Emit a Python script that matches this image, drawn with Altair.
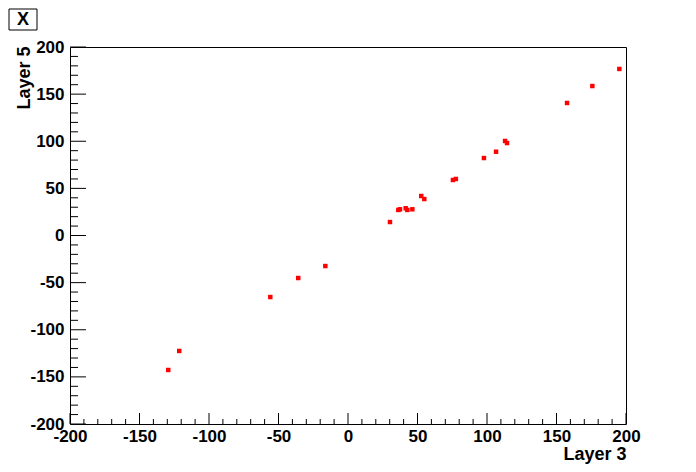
import altair as alt
import pandas as pd

# Data
layer3 = [195.2, 175.8, 157.6, 113.0, 114.4, 106.5, 97.8, 75.5, 77.6, 54.9, 52.7,
          46.3, 42.7, 41.5, 37.4, 36.2, 30.2, -16.3, -35.8, -55.9, -121.4, -129.3]
layer5 = [176.7, 158.6, 140.6, 100.3, 98.1, 88.9, 82.2, 58.9, 60.0, 38.7, 41.9,
          27.8, 27.1, 28.9, 27.8, 27.1, 14.3, -32.4, -45.1, -65.3, -122.5, -142.7]

major_ticks = [-200, -150, -100, -50, 0, 50, 100, 150, 200]
minor_ticks = [v for v in range(-200, 201, 10) if v % 50 != 0]

W, H = 556, 377
FONT = "Liberation Sans"

df = pd.DataFrame({"layer3": layer3, "layer5": layer5})
maj = pd.DataFrame({"v": major_ticks})
mnr = pd.DataFrame({"v": minor_ticks})

xs = alt.Scale(domain=[-200, 200], nice=False, zero=False)
ys = alt.Scale(domain=[-200, 200], nice=False, zero=False)

x_axis = alt.Axis(values=major_ticks, ticks=False, domain=False, grid=False,
                  labelExpr="'' + datum.value",
                  labelFont=FONT, labelFontWeight="bold", labelFontSize=17,
                  labelColor="black", labelPadding=4, labelFlush=False,
                  labelOverlap=False, title="Layer 3", titleFont=FONT,
                  titleFontWeight="bold", titleFontSize=18, titleColor="black",
                  titleX=W, titleY=35, titleAlign="right",
                  titleBaseline="alphabetic", titleAnchor="end")
y_axis = alt.Axis(values=major_ticks, ticks=False, domain=False, grid=False,
                  labelExpr="'' + datum.value",
                  labelFont=FONT, labelFontWeight="bold", labelFontSize=17,
                  labelColor="black", labelPadding=6, labelFlush=False,
                  labelOverlap=False, title="Layer 5", titleFont=FONT,
                  titleFontWeight="bold", titleFontSize=18, titleColor="black",
                  titleX=-41, titleY=-1, titleAngle=-90, titleAlign="right",
                  titleBaseline="alphabetic", titleAnchor="end")

points = alt.Chart(df).mark_point(shape="square", filled=True, size=20, color="#ff0000", opacity=1).encode(
    x=alt.X("layer3:Q", scale=xs, axis=x_axis, title="Layer 3"),
    y=alt.Y("layer5:Q", scale=ys, axis=y_axis, title="Layer 5"),
)

x_major = alt.Chart(maj).mark_rule(color="black", strokeWidth=1).encode(
    x=alt.X("v:Q", scale=xs, axis=x_axis, title="Layer 3"), y=alt.value(H), y2=alt.value(H - 11))
x_minor = alt.Chart(mnr).mark_rule(color="black", strokeWidth=1).encode(
    x=alt.X("v:Q", scale=xs, axis=x_axis, title="Layer 3"), y=alt.value(H), y2=alt.value(H - 5))
y_major = alt.Chart(maj).mark_rule(color="black", strokeWidth=1).encode(
    y=alt.Y("v:Q", scale=ys, axis=y_axis, title="Layer 5"), x=alt.value(0), x2=alt.value(16))
y_minor = alt.Chart(mnr).mark_rule(color="black", strokeWidth=1).encode(
    y=alt.Y("v:Q", scale=ys, axis=y_axis, title="Layer 5"), x=alt.value(0), x2=alt.value(8))

box = alt.Chart(pd.DataFrame({"t": ["X"]})).mark_rect(
    fill="white", stroke="black", strokeWidth=1).encode(
    x=alt.value(-61), x2=alt.value(-33), y=alt.value(-38), y2=alt.value(-17))
box_text = alt.Chart(pd.DataFrame({"t": ["X"]})).mark_text(
    font=FONT, fontWeight="bold", fontSize=18, color="black",
    align="center", baseline="middle").encode(
    text="t:N", x=alt.value(-47), y=alt.value(-27))

chart = alt.layer(x_minor, x_major, y_minor, y_major, points, box, box_text).properties(
    width=W, height=H,
    autosize=alt.AutoSizeParams(type="none"),
    padding={"left": 62, "top": 39, "right": 60, "bottom": 40},
    background="white",
).configure_view(stroke="black", strokeWidth=1)

chart.save("out.html", embed_options={"renderer": "svg", "actions": False})
